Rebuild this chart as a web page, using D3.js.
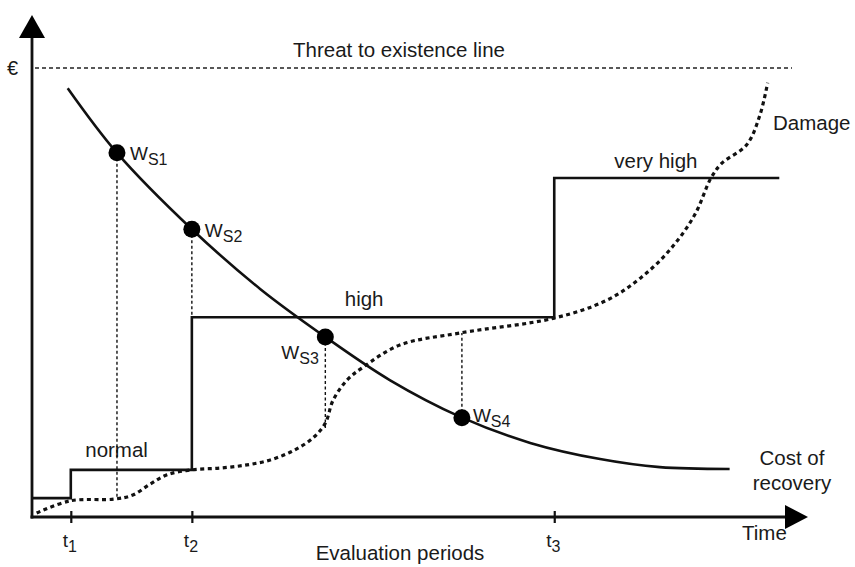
<!DOCTYPE html>
<html>
<head>
<meta charset="utf-8">
<script src="https://cdn.jsdelivr.net/npm/d3@7"></script>
<style>
  body { margin: 0; background: #fff; }
  svg text { font-family: "Liberation Sans", Arial, sans-serif; fill: #1a1a1a; }
</style>
</head>
<body>
<div id="chart"></div>
<script>
// evaluation periods on the time axis (0..100 time units)
const periods = [
  { name: "t", sub: "1", t: 5.0 },
  { name: "t", sub: "2", t: 20.6 },
  { name: "t", sub: "3", t: 67.3 }
];

// € level, threat-to-existence line = 100
const threatLevel = 100;

// protection level (step line) and its labels
const stepPoints = [[0, 4.2], [5.0, 10.5], [20.6, 44.5], [67.3, 75.5], [96.3, 75.5]];
const stepLabels = [
  { text: "normal", t: 10.9, v: 13.4 },
  { text: "high", t: 42.8, v: 47.0 },
  { text: "very high", t: 80.4, v: 77.7 }
];

// cost of recovery curve
const costPoints = [
  [4.6, 95.5], [10.95, 81.1], [20.6, 64.1], [29.4, 50.8], [37.8, 40.1],
  [46.1, 30.5], [55.2, 22.3], [64.2, 16.5], [73.2, 12.9], [80.9, 11.1], [89.9, 10.7]
];

// damage curve
const damagePoints = [
  [0.6, 0.9], [4.9, 3.6], [10.7, 4.0], [13.0, 4.9], [15.2, 7.3], [17.4, 9.4],
  [20.6, 10.5], [24.2, 10.9], [27.7, 11.6], [30.7, 12.7], [33.6, 14.7], [36.2, 17.6],
  [37.8, 20.9], [38.8, 26.0], [40.6, 30.5], [42.7, 33.4], [47.4, 38.3], [55.2, 41.0],
  [67.3, 44.3], [74.1, 48.3], [78.4, 53.2], [82.2, 59.5], [85.4, 67.3], [87.5, 75.5],
  [88.9, 78.8], [92.1, 82.9], [93.8, 89.5], [94.8, 96.7]
];

// W_S points on the cost curve and where their drop lines end
const wsPoints = [
  { sub: "S1", t: 10.95, v: 81.1, drop: 4.0 },
  { sub: "S2", t: 20.6, v: 64.1, drop: 44.5 },
  { sub: "S3", t: 37.8, v: 40.1, drop: 19.5 },
  { sub: "S4", t: 55.4, v: 22.1, drop: 41.0 }
];
const wsLabelOffset = [[13, 11], [13, 10], [-44, -4], [11, 14]];

const width = 855, height = 567;
const x0 = 32, y0 = 517;
const labelSize = "20.5px";

const svg = d3.select("#chart").append("svg")
  .attr("width", width)
  .attr("height", height);

const x = d3.scaleLinear().domain([0, 100]).range([x0, 808]);
const y = d3.scaleLinear().domain([0, 100]).range([y0, 68]);

// threat line
svg.append("line")
  .attr("x1", x0 + 3).attr("x2", 792)
  .attr("y1", y(threatLevel)).attr("y2", y(threatLevel))
  .attr("stroke", "#222").attr("stroke-width", 1.5)
  .attr("stroke-dasharray", "4,3");

svg.append("text")
  .attr("x", 399).attr("y", 57)
  .attr("text-anchor", "middle")
  .style("font-size", labelSize)
  .text("Threat to existence line");

svg.append("text")
  .attr("x", 7).attr("y", y(threatLevel) + 7)
  .style("font-size", "20px")
  .text("€");

// step line
const line = d3.line().x(d => x(d[0])).y(d => y(d[1]));

svg.append("path")
  .datum(stepPoints)
  .attr("d", line.curve(d3.curveStepAfter))
  .attr("fill", "none")
  .attr("stroke", "#111")
  .attr("stroke-width", 2.6);

svg.selectAll(".step-label")
  .data(stepLabels)
  .enter()
  .append("text")
  .attr("class", "step-label")
  .attr("x", d => x(d.t))
  .attr("y", d => y(d.v))
  .attr("text-anchor", "middle")
  .style("font-size", labelSize)
  .text(d => d.text);

// drop lines
svg.selectAll(".drop")
  .data(wsPoints)
  .enter()
  .append("line")
  .attr("class", "drop")
  .attr("x1", d => x(d.t)).attr("x2", d => x(d.t))
  .attr("y1", d => y(d.v)).attr("y2", d => y(d.drop))
  .attr("stroke", "#111").attr("stroke-width", 1.4)
  .attr("stroke-dasharray", "3,2.5");

// damage curve
svg.append("path")
  .datum(damagePoints)
  .attr("d", d3.line().x(d => x(d[0])).y(d => y(d[1])).curve(d3.curveCatmullRom))
  .attr("fill", "none")
  .attr("stroke", "#111")
  .attr("stroke-width", 3.2)
  .attr("stroke-dasharray", "4,3.5");

// cost of recovery curve
svg.append("path")
  .datum(costPoints)
  .attr("d", d3.line().x(d => x(d[0])).y(d => y(d[1])).curve(d3.curveCatmullRom))
  .attr("fill", "none")
  .attr("stroke", "#111")
  .attr("stroke-width", 2.6);

// W_S points
svg.selectAll(".ws")
  .data(wsPoints)
  .enter()
  .append("circle")
  .attr("class", "ws")
  .attr("cx", d => x(d.t))
  .attr("cy", d => y(d.v))
  .attr("r", 8.5)
  .attr("fill", "#000");

const wsText = svg.selectAll(".ws-label")
  .data(wsPoints)
  .enter()
  .append("text")
  .attr("class", "ws-label")
  .attr("x", (d, i) => x(d.t) + wsLabelOffset[i][0])
  .attr("y", (d, i) => y(d.v) - wsLabelOffset[i][1] + 18)
  .style("font-size", "19px");
wsText.append("tspan").text("W");
wsText.append("tspan")
  .attr("dy", 5)
  .style("font-size", "16px")
  .text(d => d.sub);

// curve labels
svg.append("text")
  .attr("x", 773).attr("y", 130)
  .style("font-size", labelSize)
  .text("Damage");

const costLabel = svg.append("text")
  .attr("text-anchor", "middle")
  .style("font-size", labelSize);
costLabel.append("tspan").attr("x", 792).attr("y", 465).text("Cost of");
costLabel.append("tspan").attr("x", 792).attr("y", 490).text("recovery");

// axes
const xAxis = svg.append("g")
  .attr("transform", "translate(0," + y0 + ")")
  .call(d3.axisBottom(x).tickValues(periods.map(d => d.t)).tickSize(6).tickFormat(""));
xAxis.select(".domain").remove();
xAxis.selectAll(".tick line")
  .attr("y1", -6)
  .attr("stroke", "#111")
  .attr("stroke-width", 2.2);

svg.append("line")
  .attr("x1", x0 - 1.5).attr("x2", 790)
  .attr("y1", y0).attr("y2", y0)
  .attr("stroke", "#111").attr("stroke-width", 2.8);
svg.append("path")
  .attr("d", "M808," + y0 + " L785," + (y0 - 12) + " L785," + (y0 + 12) + " Z")
  .attr("fill", "#000");

svg.append("line")
  .attr("x1", x0).attr("x2", x0)
  .attr("y1", y0 + 1.4).attr("y2", 34)
  .attr("stroke", "#111").attr("stroke-width", 2.8);
svg.append("path")
  .attr("d", "M" + x0 + ",15 L" + (x0 - 13) + ",38 L" + (x0 + 13) + ",38 Z")
  .attr("fill", "#000");

const tLabels = svg.selectAll(".t-label")
  .data(periods)
  .enter()
  .append("text")
  .attr("class", "t-label")
  .attr("x", d => x(d.t) - 8)
  .attr("y", 547)
  .style("font-size", "19px");
tLabels.append("tspan").text(d => d.name);
tLabels.append("tspan")
  .attr("dy", 5)
  .style("font-size", "16px")
  .text(d => d.sub);

svg.append("text")
  .attr("x", 742).attr("y", 540)
  .style("font-size", labelSize)
  .text("Time");

svg.append("text")
  .attr("x", 400).attr("y", 560)
  .attr("text-anchor", "middle")
  .style("font-size", labelSize)
  .text("Evaluation periods");
</script>
</body>
</html>
